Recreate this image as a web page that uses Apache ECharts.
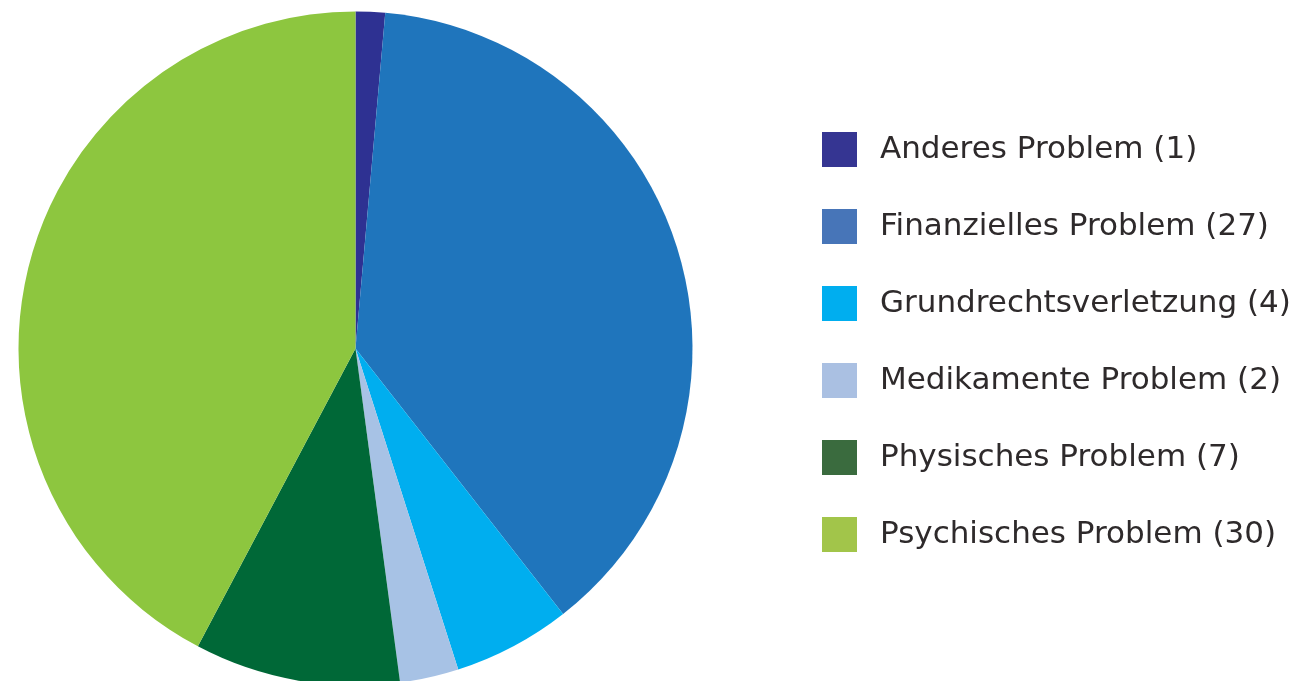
<!DOCTYPE html>
<html lang="de">
<head>
    <meta charset="UTF-8">
    <title>Probleme</title>
    <script src="https://cdn.jsdelivr.net/npm/echarts@6/dist/echarts.min.js"></script>
    <style>
        html, body { margin: 0; padding: 0; background: #fff; }
    </style>
</head>
<body>
    <div id="main" style="width: 1310px;height:681px;"></div>
    <script>
        let names = ['Anderes Problem', 'Finanzielles Problem', 'Grundrechtsverletzung', 'Medikamente Problem', 'Physisches Problem', 'Psychisches Problem']
        let counts = [1, 27, 4, 2, 7, 30]
        let sliceColors = ['#2e3192', '#1f75bc', '#00aeef', '#a7c2e5', '#006837', '#8dc63f']
        let legendColors = ['#353592', '#4775b8', '#00aeef', '#aac0e2', '#3a6b3e', '#a2c54a']
    </script>
    <script>
        var chartDom = document.getElementById('main');
        var myChart = echarts.init(chartDom);
        var option;

        option = {
            animation: false,
            legend: {
                orient: 'vertical',
                left: 822,
                top: 132,
                padding: 0,
                itemWidth: 35,
                itemHeight: 35,
                itemGap: 42,
                icon: 'rect',
                textStyle: {
                    fontFamily: 'DejaVu Sans',
                    fontSize: 31,
                    color: '#2e2a2b',
                    padding: [4, 0, 0, 18]
                },
                formatter: function (name) {
                    return name + ' (' + counts[names.indexOf(name)] + ')'
                },
                data: names.map((n, i) => ({ name: n, itemStyle: { color: legendColors[i] } }))
            },
            series: [
                {
                    type: 'pie',
                    center: [355.5, 348.5],
                    radius: 337,
                    startAngle: 90,
                    clockwise: true,
                    label: { show: false },
                    labelLine: { show: false },
                    itemStyle: { borderWidth: 0 },
                    data: names.map((n, i) => ({ name: n, value: counts[i], itemStyle: { color: sliceColors[i] } }))
                }
            ]
        };

        option && myChart.setOption(option);
    </script>
</body>
</html>
